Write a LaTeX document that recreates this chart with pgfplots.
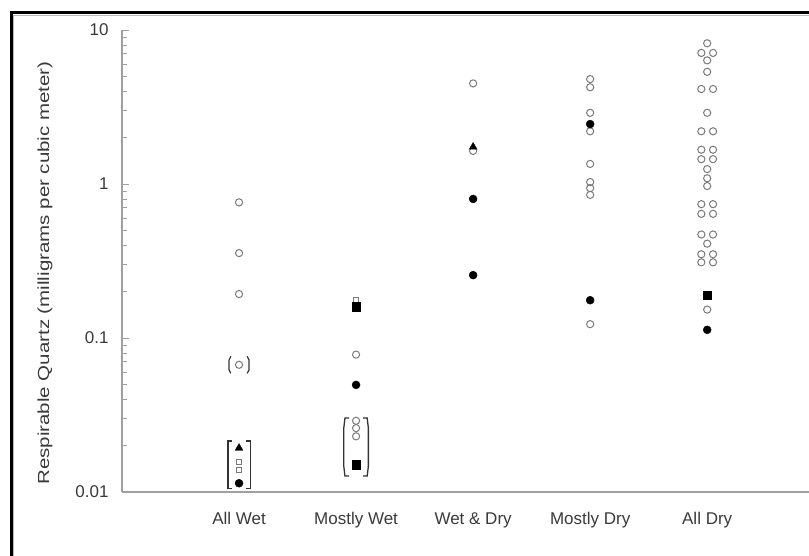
\documentclass[border=0pt]{standalone}
\usepackage{fontspec}
\setmainfont{Liberation Sans}
\usepackage{pgfplots}
\pgfplotsset{compat=1.18}
\definecolor{txt}{HTML}{3A3A3A}
\definecolor{axc}{HTML}{A0A0A0}
\definecolor{opc}{HTML}{7A7A7A}
\begin{document}
\begin{tikzpicture}[x=1pt,y=1pt]
\useasboundingbox (0,0) rectangle (809,555);
\fill[white] (0,0) rectangle (809,555);
\draw[black,line width=3pt] (11,542) -- (815,542);
\draw[black,line width=3pt] (11,543.5) -- (11,-5);
\draw[gray!55,line width=1.2pt] (13.5,539.5) -- (815,539.5);
\draw[gray!55,line width=1.2pt] (13.5,539.5) -- (13.5,-5);
\begin{axis}[
  at={(122pt,63pt)}, anchor=south west,
  scale only axis, width=687pt, height=462pt,
  ymode=log, ymin=0.01, ymax=10, xmin=0, xmax=5.87,
  axis lines*=left,
  axis line style={axc, line width=1.2pt},
  clip=false,
  /pgf/number format/assume math mode=true,
  font=\fontsize{17}{20}\selectfont,
  tick label style={text=txt},
  xtick={1,2,3,4,5},
  xticklabels={All Wet, Mostly Wet, Wet \& Dry, Mostly Dry, All Dry},
  xtick style={draw=none},
  xticklabel style={yshift=-17pt},
  ytick={0.01,0.1,1,10},
  yticklabels={0.01,0.1,1,10},
  yticklabel style={anchor=east, xshift=-10pt},
  tick align=inside,
  major tick length=7pt, minor tick length=5pt,
  ytick style={axc, line width=0.8pt},
  ylabel={\scalebox{1.28}[1]{Respirable Quartz (milligrams per cubic meter)}},
  ylabel style={at={(axis description cs:-0.112,0.474)}, anchor=center, text=txt, font=\fontsize{16}{19}\selectfont},
]
% open circles
\addplot[only marks, mark=o, mark size=3.6pt, opc, line width=1pt] coordinates {
 (1,0.76) (1,0.356) (1,0.193) (1,0.067)
 (2,0.078) (2,0.029) (2,0.026) (2,0.023)
 (3,4.5) (3,1.64)
 (4,4.8) (4,4.25) (4,2.9) (4,2.2) (4,1.35) (4,1.03) (4,0.94) (4,0.85) (4,0.123)
 (5,8.2) (4.95,7.1) (5.05,7.1) (5,6.35) (5,5.35) (4.95,4.14) (5.05,4.14)
 (5,2.9) (4.95,2.2) (5.05,2.2) (4.95,1.67) (5.05,1.67) (4.95,1.45) (5.05,1.45)
 (5,1.25) (5,1.09) (5,0.97) (4.95,0.74) (5.05,0.74) (4.95,0.64) (5.05,0.64)
 (4.95,0.47) (5.05,0.47) (5,0.41) (4.95,0.35) (5.05,0.35) (4.95,0.31) (5.05,0.31)
 (5,0.153)
};
% open squares
\addplot[only marks, mark=square, mark size=2.8pt, opc, line width=0.9pt] coordinates {
 (1,0.0157) (1,0.0139) (2,0.175)
};
% filled circles
\addplot[only marks, mark=*, mark size=4pt, black] coordinates {
 (1,0.0114) (2,0.0496) (3,0.8) (3,0.256) (4,2.45) (4,0.176) (5,0.113)
};
% filled triangles
\addplot[only marks, mark=triangle*, mark size=4.5pt, black] coordinates {
 (1,0.0193) (3,1.74)
};
% filled squares
\addplot[only marks, mark=square*, mark size=4.2pt, black] coordinates {
 (2,0.16) (2,0.015) (5,0.19)
};
% brackets (annotations)
\draw[black!80, line width=1.3pt] (axis cs:0.94,0.0214) -- (axis cs:0.905,0.0214) -- (axis cs:0.905,0.0105) -- (axis cs:0.94,0.0105);
\draw[black!80, line width=1.3pt] (axis cs:1.06,0.0214) -- (axis cs:1.095,0.0214) -- (axis cs:1.095,0.0105) -- (axis cs:1.06,0.0105);
\draw[black!80, line width=1.3pt] (axis cs:1.94,0.0302) -- (axis cs:1.905,0.0302) -- (axis cs:1.895,0.026) -- (axis cs:1.895,0.0147) -- (axis cs:1.905,0.0127) -- (axis cs:1.94,0.0127);
\draw[black!80, line width=1.3pt] (axis cs:2.06,0.0302) -- (axis cs:2.095,0.0302) -- (axis cs:2.105,0.026) -- (axis cs:2.105,0.0147) -- (axis cs:2.095,0.0127) -- (axis cs:2.06,0.0127);
\draw[black!80, line width=1.2pt] (axis cs:0.93,0.076) -- (axis cs:0.915,0.072) -- (axis cs:0.915,0.062) -- (axis cs:0.93,0.059);
\draw[black!80, line width=1.2pt] (axis cs:1.07,0.076) -- (axis cs:1.085,0.072) -- (axis cs:1.085,0.062) -- (axis cs:1.07,0.059);
\end{axis}
\end{tikzpicture}
\end{document}
